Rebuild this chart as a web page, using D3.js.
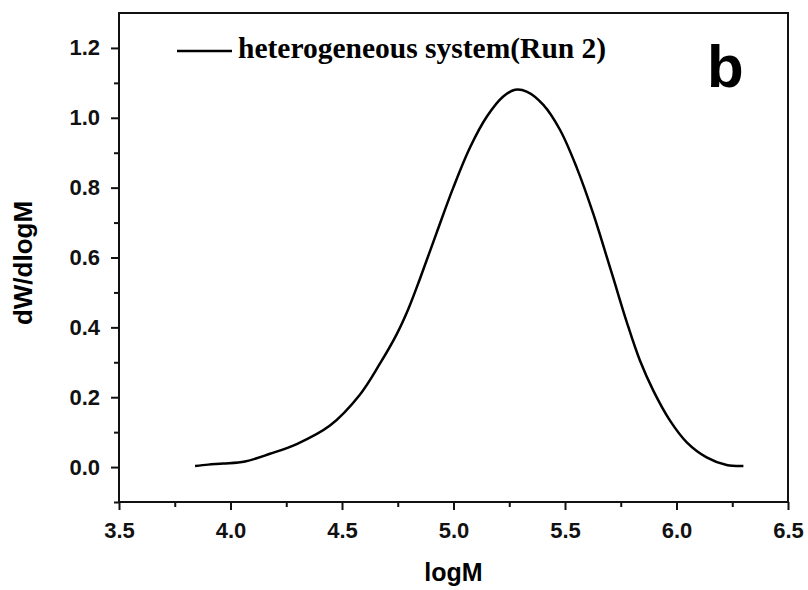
<!DOCTYPE html>
<html>
<head>
<meta charset="utf-8">
<script src="https://cdn.jsdelivr.net/npm/d3@7"></script>
<style>
  body { margin: 0; background: #fff; }
</style>
</head>
<body>
<svg id="chart"></svg>
<script>
// curve
const logM = [3.841, 3.90, 3.968, 4.065, 4.177, 4.297, 4.446, 4.581, 4.670, 4.745, 4.797,
  4.850, 4.925, 4.999, 5.074, 5.149, 5.223, 5.276, 5.328, 5.403, 5.478, 5.552, 5.627,
  5.665, 5.717, 5.777, 5.836, 5.896, 5.971, 6.046, 6.135, 6.225, 6.300];
const dW = [0.003, 0.007, 0.010, 0.016, 0.038, 0.066, 0.119, 0.208, 0.296, 0.380, 0.452,
  0.540, 0.672, 0.800, 0.915, 1.003, 1.061, 1.080, 1.075, 1.037, 0.965, 0.858, 0.725,
  0.648, 0.540, 0.415, 0.305, 0.219, 0.133, 0.071, 0.028, 0.006, 0.003];
const xTicks = [3.5, 4.0, 4.5, 5.0, 5.5, 6.0, 6.5];
const yTicks = [0.0, 0.2, 0.4, 0.6, 0.8, 1.0, 1.2];
const seriesName = "heterogeneous system(Run 2)";

const width = 808, height = 590;
const margin = {top: 13, right: 20, bottom: 88, left: 119};
const sans = "'Liberation Sans', Arial, sans-serif";

const svg = d3.select("#chart").attr("width", width).attr("height", height);

const x = d3.scaleLinear().domain([3.5, 6.5]).range([margin.left, 788]);
const y = d3.scaleLinear().domain([-0.1, 1.3]).range([502, margin.top]);

function styleAxis(g) {
  g.select(".domain").remove();
  g.selectAll("line").attr("stroke-width", 2).attr("stroke", "#111");
  g.selectAll("text")
    .attr("font-family", sans).attr("font-weight", "bold")
    .attr("font-size", 22).attr("fill", "#111");
}

// minor ticks
svg.append("g")
    .attr("transform", "translate(0,502)")
    .call(d3.axisBottom(x).tickValues(d3.range(3.75, 6.5, 0.5)).tickSize(5).tickFormat(""))
    .call(styleAxis);
svg.append("g")
    .attr("transform", `translate(${margin.left},0)`)
    .call(d3.axisLeft(y).tickValues(d3.range(-0.1, 1.3, 0.2)).tickSize(5).tickFormat(""))
    .call(styleAxis);

// major ticks
svg.append("g")
    .attr("transform", "translate(0,502)")
    .call(d3.axisBottom(x).tickValues(xTicks).tickSize(8).tickPadding(12).tickFormat(d3.format(".1f")))
    .call(styleAxis);
svg.append("g")
    .attr("transform", `translate(${margin.left},0)`)
    .call(d3.axisLeft(y).tickValues(yTicks).tickSize(8).tickPadding(11).tickFormat(d3.format(".1f")))
    .call(styleAxis);

// frame
svg.append("rect")
    .attr("x", x(3.5)).attr("y", y(1.3))
    .attr("width", x(6.5) - x(3.5)).attr("height", y(-0.1) - y(1.3))
    .attr("fill", "none").attr("stroke", "#111").attr("stroke-width", 2);

// curve
const pts = logM.map((d, i) => [d, dW[i]]);
svg.append("path")
    .datum(pts)
    .attr("fill", "none")
    .attr("stroke", "#000")
    .attr("stroke-width", 2.5)
    .attr("d", d3.line().x(d => x(d[0])).y(d => y(d[1])).curve(d3.curveCatmullRom.alpha(0.5)));

// legend
svg.append("line")
    .attr("x1", 177).attr("x2", 232).attr("y1", 51).attr("y2", 51)
    .attr("stroke", "#000").attr("stroke-width", 2.5);
svg.append("text")
    .attr("x", 238).attr("y", 58)
    .style("font-family", "'Liberation Serif', 'Times New Roman', serif")
    .style("font-weight", "bold").style("font-size", "29.5px")
    .text(seriesName);

svg.append("text")
    .attr("x", 707).attr("y", 87)
    .style("font-family", sans)
    .style("font-weight", "bold").style("font-size", "60px")
    .text("b");

// axis titles
svg.append("text")
    .attr("x", (x(3.5) + x(6.5)) / 2).attr("y", 581)
    .attr("text-anchor", "middle")
    .style("font-family", sans)
    .style("font-weight", "bold").style("font-size", "25px")
    .text("logM");
svg.append("text")
    .attr("transform", "translate(32,263) rotate(-90)")
    .attr("text-anchor", "middle")
    .style("font-family", sans)
    .style("font-weight", "bold").style("font-size", "26px")
    .text("dW/dlogM");
</script>
</body>
</html>
